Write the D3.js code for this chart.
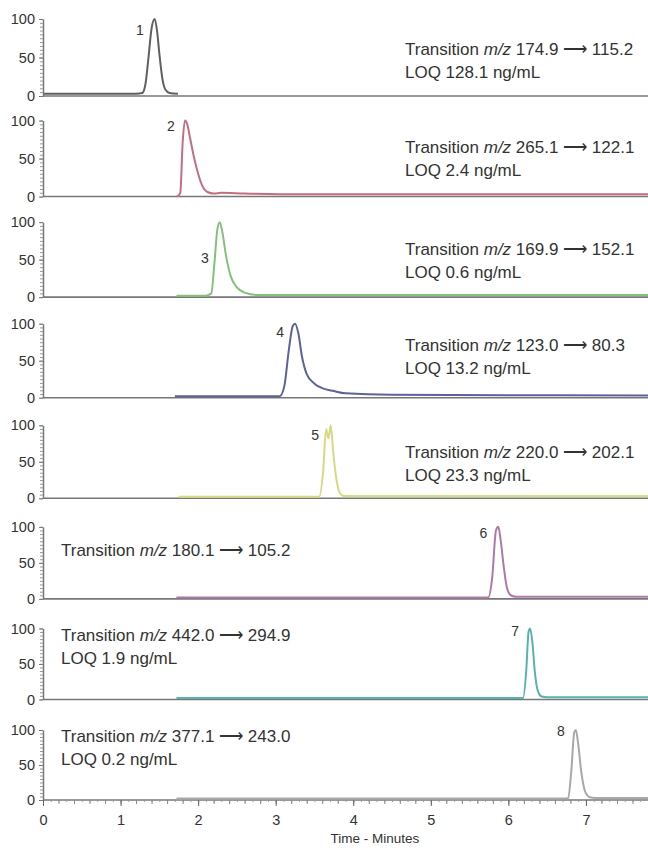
<!DOCTYPE html>
<html>
<head>
<meta charset="utf-8">
<script src="https://cdn.jsdelivr.net/npm/d3@7/dist/d3.min.js"></script>
<style>
  body { margin: 0; background: #fff; }
  svg text { font-family: "Liberation Sans", Arial, sans-serif; fill: #333; }
</style>
</head>
<body>
<div id="chart"></div>
<script>
// peaks and transitions (m/z precursor -> product)
const peakIds = ["1", "2", "3", "4", "5", "6", "7", "8"];
const precursors = ["174.9", "265.1", "169.9", "123.0", "220.0", "180.1", "442.0", "377.1"];
const products = ["115.2", "122.1", "152.1", "80.3", "202.1", "105.2", "294.9", "243.0"];
const loqs = ["128.1", "2.4", "0.6", "13.2", "23.3", null, "1.9", "0.2"];
const peakTimes = [1.44, 1.84, 2.28, 3.25, 3.70, 5.87, 6.28, 6.87];
const yTicks = [0, 50, 100];
const xTicks = [0, 1, 2, 3, 4, 5, 6, 7];

// traces, [minutes, relative intensity %]
const trace1 = [[0, 3], [0.6, 3], [1.2, 3], [1.28, 4], [1.32, 15], [1.36, 50], [1.40, 88], [1.44, 100],
  [1.47, 85], [1.50, 55], [1.54, 22], [1.58, 8], [1.63, 4], [1.74, 3]];
const trace2 = [[1.73, 0], [1.77, 5], [1.80, 70], [1.83, 100], [1.86, 95], [1.90, 75], [1.95, 50],
  [2.00, 30], [2.05, 15], [2.12, 6], [2.2, 4], [2.3, 5], [2.6, 4], [3.4, 3], [5.0, 3], [7.8, 3]];
const trace3 = [[1.72, 2], [2.1, 2], [2.17, 5], [2.21, 45], [2.25, 92], [2.28, 100], [2.31, 88],
  [2.36, 55], [2.42, 28], [2.5, 13], [2.6, 6], [2.75, 3], [4.0, 3], [7.8, 3]];
const trace4 = [[1.7, 2], [3.05, 2], [3.11, 15], [3.17, 65], [3.22, 97], [3.25, 100], [3.29, 88],
  [3.34, 55], [3.40, 32], [3.5, 19], [3.6, 13], [3.75, 9], [3.9, 6], [4.5, 4], [7.8, 3]];
const trace5 = [[1.75, 2], [3.56, 2], [3.61, 35], [3.65, 95], [3.68, 82], [3.71, 100], [3.74, 65],
  [3.78, 28], [3.82, 9], [3.88, 3], [5.0, 3], [7.8, 3]];
const trace6 = [[1.72, 2], [5.74, 2], [5.79, 28], [5.84, 95], [5.87, 100], [5.90, 82], [5.94, 45],
  [5.98, 16], [6.03, 5], [6.1, 3], [7.8, 3]];
const trace7 = [[1.72, 2], [6.19, 2], [6.23, 40], [6.26, 95], [6.28, 100], [6.31, 80], [6.34, 40],
  [6.38, 12], [6.43, 4], [6.5, 3], [7.8, 3]];
const trace8 = [[1.72, 2], [6.77, 2], [6.81, 40], [6.85, 97], [6.87, 100], [6.90, 80], [6.94, 40],
  [6.99, 12], [7.05, 4], [7.12, 3], [7.8, 3]];
const traces = [trace1, trace2, trace3, trace4, trace5, trace6, trace7, trace8];

const width = 648, height = 848;
const colors = ["#606060", "#c46e82", "#86c07c", "#5d6299", "#d6da84", "#ad7aa6", "#5ab2ae", "#a9a9a9"];
// text block position per panel: [x, first line offset from panel top]
const notePos = [[405, 30], [405, 26], [405, 27], [405, 21], [405, 27], [61, 23], [61, 7], [61, 6]];
// peak number label height, % of panel
const labelV = [86, 93, 52, 88, 87, 92, 96, 99];

const svg = d3.select("#chart").append("svg")
  .attr("width", width).attr("height", height);

const x = d3.scaleLinear().domain([0, 7.8]).range([43, 648]);
const topOf = d3.scaleLinear().domain([0, 7]).range([19, 730]);
const hOf = d3.scaleLinear().domain([0, 7]).range([77, 70]);

const line = d3.line().x(d => x(d[0])).curve(d3.curveMonotoneX);

traces.forEach((trace, i) => {
  const top = topOf(i), h = hOf(i);
  const y = d3.scaleLinear().domain([0, 100]).range([top + h, top]);
  const g = svg.append("g").attr("class", "panel");

  // baseline / time axis of the panel
  g.append("line")
    .attr("x1", x(0)).attr("x2", width)
    .attr("y1", y(0)).attr("y2", y(0))
    .attr("stroke", "#777").attr("stroke-width", 1.6);

  // chromatogram
  g.append("path").datum(trace)
    .attr("d", line.y(d => y(d[1])))
    .attr("fill", "none")
    .attr("stroke", colors[i])
    .attr("stroke-width", 2)
    .attr("stroke-linejoin", "round");

  // intensity axis, minor ticks then labelled ones
  const minor = g.append("g").attr("transform", `translate(${x(0)},0)`)
    .call(d3.axisLeft(y).tickValues(d3.range(0, 101, 5)).tickSize(3).tickSizeOuter(0).tickFormat(""));
  minor.select(".domain").attr("stroke", "#777").attr("stroke-width", 1.5);
  minor.selectAll(".tick line").attr("stroke", "#999");
  const major = g.append("g").attr("transform", `translate(${x(0)},0)`)
    .call(d3.axisLeft(y).tickValues(yTicks).tickSize(4).tickSizeOuter(0).tickPadding(4));
  major.select(".domain").remove();
  major.selectAll(".tick line").attr("stroke", "#777");
  major.selectAll(".tick text").attr("font-size", 14.5).attr("fill", "#333");

  // peak number
  g.append("text")
    .attr("x", x(peakTimes[i]) - 11)
    .attr("y", y(labelV[i]))
    .attr("dy", "0.35em")
    .attr("text-anchor", "end")
    .attr("font-size", 14)
    .text(peakIds[i]);

  // transition + LOQ note
  const note = g.append("text")
    .attr("x", notePos[i][0])
    .attr("y", top + notePos[i][1])
    .attr("dy", "0.35em")
    .attr("font-size", 17);
  note.append("tspan").text("Transition ");
  note.append("tspan").attr("font-style", "italic").text("m/z");
  note.append("tspan").text(` ${precursors[i]} \u27F6 ${products[i]}`);
  if (loqs[i]) {
    g.append("text")
      .attr("x", notePos[i][0])
      .attr("y", top + notePos[i][1] + 23)
      .attr("dy", "0.35em")
      .attr("font-size", 17)
      .text(`LOQ ${loqs[i]} ng/mL`);
  }

  // time axis labels only on the bottom panel
  if (i === traces.length - 1) {
    const tiny = g.append("g").attr("transform", `translate(0,${y(0)})`)
      .call(d3.axisBottom(x).tickValues(d3.range(0, 7.81, 0.1)).tickSize(2).tickFormat(""));
    tiny.select(".domain").remove();
    tiny.selectAll(".tick line").attr("stroke", "#999");
    const mid = g.append("g").attr("transform", `translate(0,${y(0)})`)
      .call(d3.axisBottom(x).tickValues(d3.range(0, 7.81, 0.2)).tickSize(4).tickFormat(""));
    mid.select(".domain").remove();
    mid.selectAll(".tick line").attr("stroke", "#888");
    const bottom = g.append("g").attr("transform", `translate(0,${y(0)})`)
      .call(d3.axisBottom(x).tickValues(xTicks).tickSize(6).tickPadding(9));
    bottom.select(".domain").remove();
    bottom.selectAll(".tick line").attr("stroke", "#666");
    bottom.selectAll(".tick text").attr("font-size", 14.5).attr("fill", "#333");

    svg.append("text")
      .attr("x", 375).attr("y", y(0) + 43)
      .attr("text-anchor", "middle")
      .attr("font-size", 13.5)
      .text("Time - Minutes");
  }
});
</script>
</body>
</html>
